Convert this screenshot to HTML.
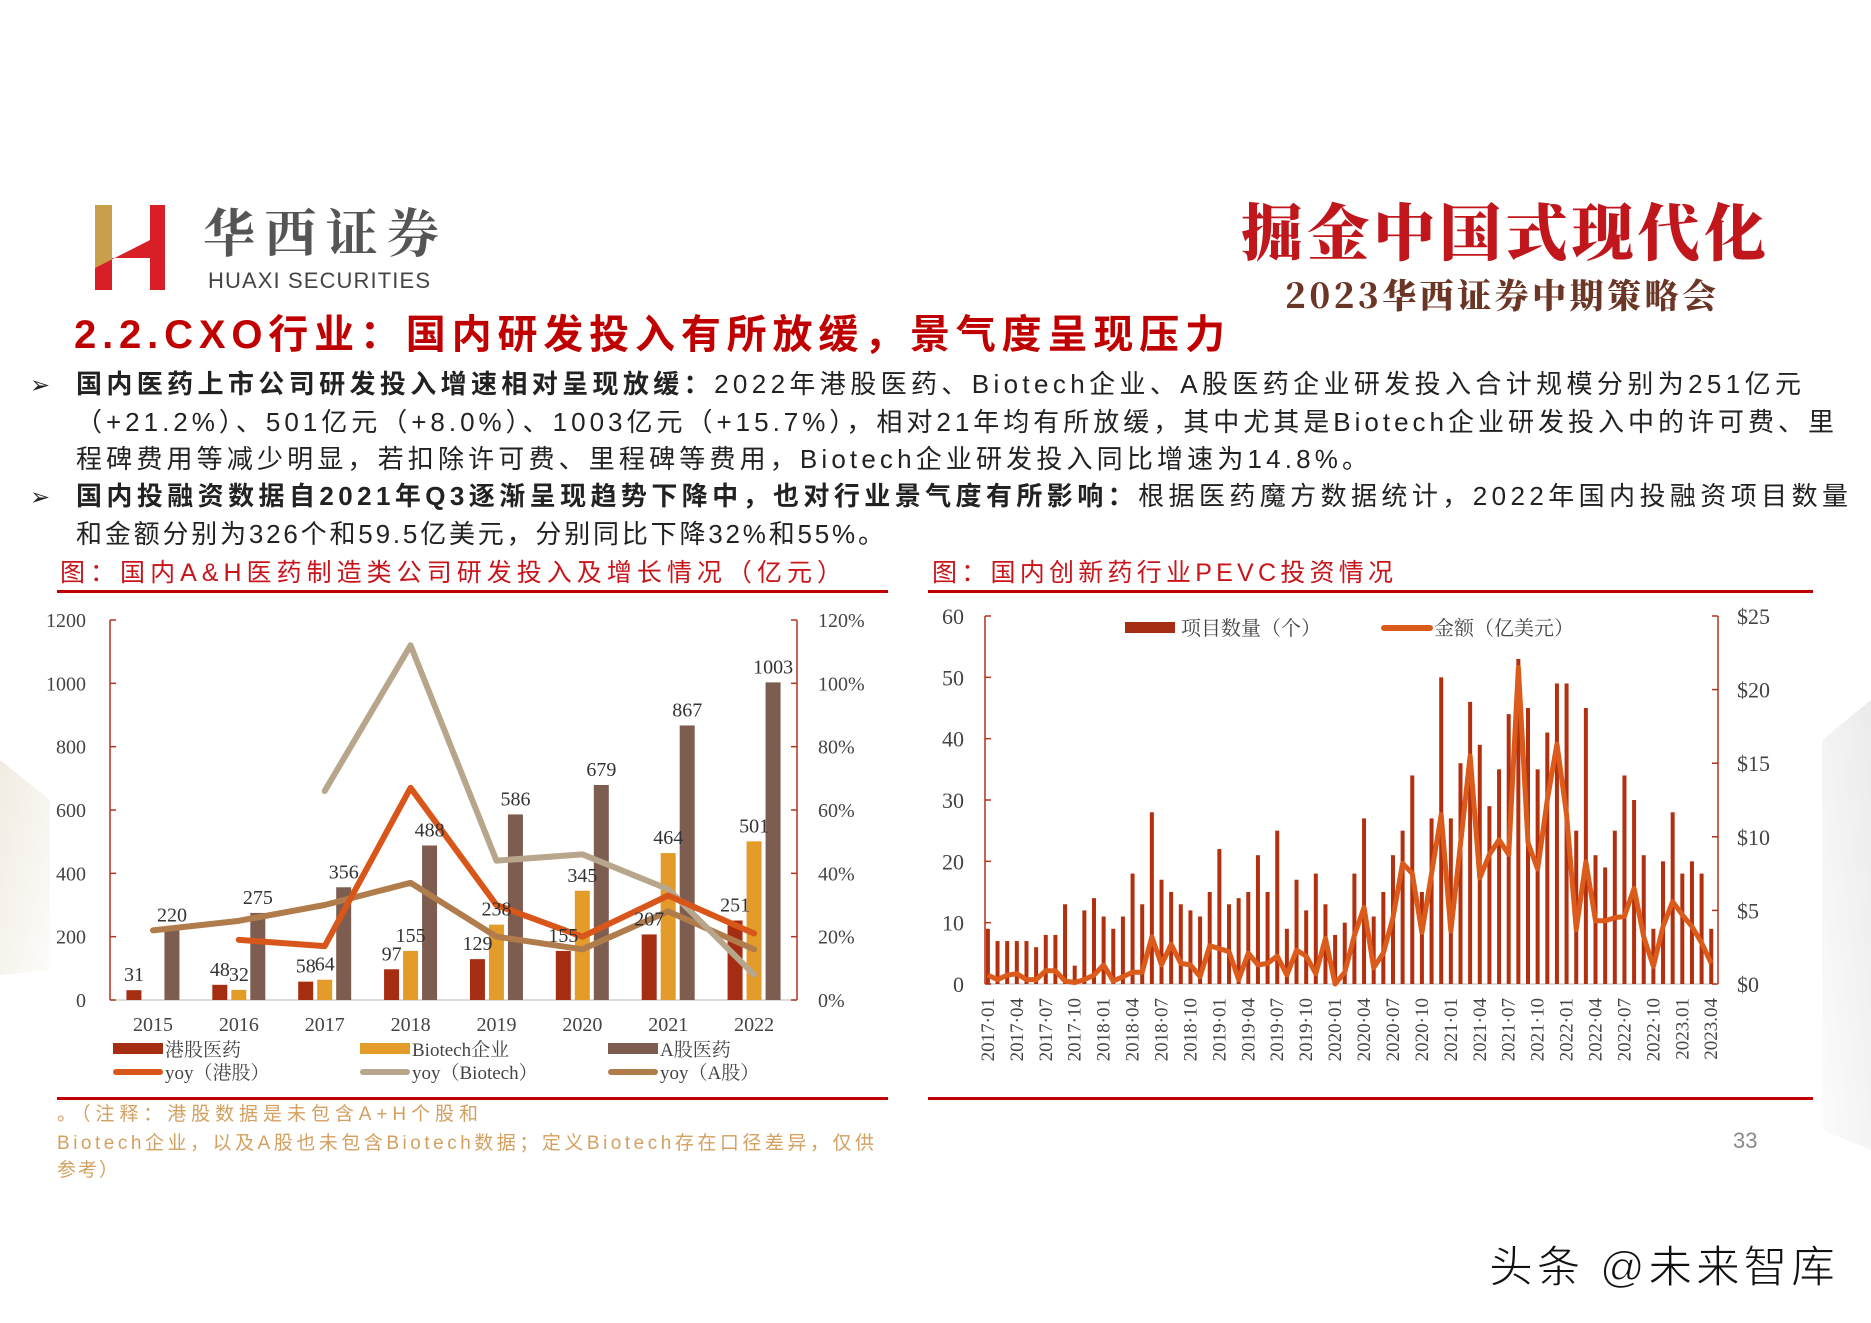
<!DOCTYPE html>
<html><head><meta charset="utf-8">
<style>
html,body{margin:0;padding:0;background:#fff;}
svg{display:block;}
.cjk{font-family:"Liberation Sans","Noto Sans CJK SC",sans-serif;}
.ser{font-family:"Liberation Serif","Noto Serif CJK SC",serif;}
</style></head>
<body>
<svg id="page" width="1871" height="1323" viewBox="0 0 1871 1323" xmlns="http://www.w3.org/2000/svg">
<defs>
<linearGradient id="lg" x1="0" y1="0" x2="1" y2="1"><stop offset="0" stop-color="#f1ece2"/><stop offset="1" stop-color="#fdfcfa"/></linearGradient>
<linearGradient id="rg" x1="1" y1="0" x2="0" y2="1"><stop offset="0" stop-color="#ebebeb"/><stop offset="1" stop-color="#fcfcfc"/></linearGradient>
</defs>
<polygon points="0,760 50,800 50,970 0,975" fill="url(#lg)"/>
<polygon points="1871,700 1822,740 1822,1130 1871,1150" fill="url(#rg)"/>

<!-- logo -->
<g>
<polygon points="95,205 112,205 112,262 95,268" fill="#c9a04a"/>
<polygon points="95,268 150,240 150,205 165,205 165,290 150,290 150,258 112,258 112,290 95,290" fill="#d81e27"/>
<text x="203" y="252" font-size="52" font-weight="bold" fill="#555" font-family="'Noto Serif CJK SC',serif" textLength="236">华西证券</text>
<text x="208" y="288" font-size="22" fill="#444" font-family="'Liberation Sans',sans-serif" textLength="222">HUAXI SECURITIES</text>
</g>
<text x="1241" y="255" font-size="62" font-weight="900" fill="#c0161c" font-family="'Noto Serif CJK SC',serif" textLength="525">掘金中国式现代化</text>
<text x="1285" y="308" font-size="34" font-weight="900" fill="#6b3626" font-family="'Noto Serif CJK SC',serif" textLength="431">2023华西证券中期策略会</text>

<text class="cjk" x="74" y="348" font-size="40" font-weight="bold" fill="#c00000" textLength="1151">2.2.CXO行业：国内研发投入有所放缓，景气度呈现压力</text>

<g class="cjk" font-size="26" fill="#222">
<text x="30" y="393" font-size="24">➢</text>
<text x="76" y="393" textLength="1725"><tspan font-weight="bold">国内医药上市公司研发投入增速相对呈现放缓：</tspan>2022年港股医药、Biotech企业、A股医药企业研发投入合计规模分别为251亿元</text>
<text x="76" y="431" textLength="1758">（+21.2%）、501亿元（+8.0%）、1003亿元（+15.7%），相对21年均有所放缓，其中尤其是Biotech企业研发投入中的许可费、里</text>
<text x="76" y="468" textLength="1292">程碑费用等减少明显，若扣除许可费、里程碑等费用，Biotech企业研发投入同比增速为14.8%。</text>
<text x="30" y="505" font-size="24">➢</text>
<text x="76" y="505" textLength="1772"><tspan font-weight="bold">国内投融资数据自2021年Q3逐渐呈现趋势下降中，也对行业景气度有所影响：</tspan>根据医药魔方数据统计，2022年国内投融资项目数量</text>
<text x="76" y="543" textLength="808">和金额分别为326个和59.5亿美元，分别同比下降32%和55%。</text>
</g>

<text class="cjk" x="60" y="581" font-size="25" fill="#c8151b" textLength="782">图：国内A&amp;H医药制造类公司研发投入及增长情况（亿元）</text>
<text class="cjk" x="932" y="581" font-size="25" fill="#c8151b" textLength="461">图：国内创新药行业PEVC投资情况</text>
<rect x="57" y="590" width="831" height="3" fill="#c00000"/>
<rect x="928" y="590" width="885" height="3" fill="#c00000"/>
<rect x="57" y="1097" width="831" height="3" fill="#c00000"/>
<rect x="928" y="1097" width="885" height="3" fill="#c00000"/>

<g class="cjk" font-size="19" fill="#d4a060">
<text x="57" y="1120" textLength="421">。（注释：港股数据是未包含A+H个股和</text>
<text x="57" y="1149" textLength="817">Biotech企业，以及A股也未包含Biotech数据；定义Biotech存在口径差异，仅供</text>
<text x="57" y="1176" textLength="61">参考）</text>
</g>
<text class="cjk" x="1733" y="1148" font-size="22" fill="#8a8a8a">33</text>
<text class="cjk" x="1489" y="1282" font-size="44" fill="#111" stroke="#fff" stroke-width="1" textLength="346">头条 @未来智库</text>

<g id="chart1" class="ser"></g>
<g id="chart2" class="ser"></g>
</svg>

<script>
// ---------- chart 1 data ----------
const years = ["2015","2016","2017","2018","2019","2020","2021","2022"];
const hkRD = [31,48,58,97,129,155,207,251];
const biotechRD = [null,32,64,155,238,345,464,501];
const aRD = [220,275,356,488,586,679,867,1003];
const hkYoy = [null,19,17,67,30,20,33,21];
const biotechYoy = [null,null,66,112,44,46,35,8];
const aYoy = [22,25,30,37,20,16,28,16];
const leftTicks = [0,200,400,600,800,1000,1200];
const rightTicks = ["0%","20%","40%","60%","80%","100%","120%"];

// ---------- chart 2 data ----------
const monthLabels = ["2017·01","2017·04","2017·07","2017·10","2018·01","2018·04","2018·07","2018·10","2019·01","2019·04","2019·07","2019·10","2020·01","2020·04","2020·07","2020·10","2021·01","2021·04","2021·07","2021·10","2022·01","2022·04","2022·07","2022·10","2023.01","2023.04"];
const dealCount = [9,7,7,7,7,6,8,8,13,3,12,14,11,9,11,18,13,28,17,15,13,12,11,15,22,13,14,15,21,15,25,9,17,12,18,13,8,10,18,27,11,15,21,25,34,15,27,50,27,36,46,39,29,35,44,53,45,35,41,49,49,25,45,21,19,25,34,30,21,9,20,28,18,20,18,9];
const dealAmount = [0.6,0.3,0.6,0.7,0.3,0.3,0.9,0.9,0.2,0.1,0.3,0.6,1.3,0.2,0.5,0.8,0.8,3.2,1.3,2.7,1.4,1.3,0.5,2.6,2.4,2.2,0.3,2.1,1.3,1.4,1.9,0.6,2.3,1.9,0.7,3.1,0,0.8,3.3,5.2,1.1,2.1,4.5,8.2,7.5,3.5,7.5,11.5,3.6,9.5,15.5,7.2,8.8,9.8,8.8,21.5,9.6,7.8,12.5,16.3,11.5,3.7,8.3,4.3,4.3,4.5,4.6,6.5,3.2,1.2,3.9,5.6,4.7,3.9,2.8,1.4];
const countTicks = [0,10,20,30,40,50,60];
const amountTicks = ["$0","$5","$10","$15","$20","$25"];

const NS = "http://www.w3.org/2000/svg";
function mk(tag, attrs, parent){
  const e = document.createElementNS(NS, tag);
  for (const k in attrs) e.setAttribute(k, attrs[k]);
  parent.appendChild(e);
  return e;
}

// ===== chart 1 =====
(function(){
  const g = document.getElementById('chart1');
  const X0=110, X1=797, Y0=1000, Y1=620;
  const band=(X1-X0)/years.length;
  const cx=i=>X0+band*(i+0.5);
  const yL=v=>Y0-(v/1200)*(Y0-Y1);
  const yR=v=>Y0-(v/120)*(Y0-Y1);
  let e;
  e=mk('line',{x1:X0,y1:Y1,x2:X0,y2:Y0,stroke:'#b3321c','stroke-width':1.5},g);
   
  e=mk('line',{x1:X1,y1:Y1,x2:X1,y2:Y0,stroke:'#b3321c','stroke-width':1.5},g);
   
  e=mk('line',{x1:X0,y1:Y0,x2:X1,y2:Y0,stroke:'#d0d0d0','stroke-width':1.5},g);
   
  leftTicks.forEach((t)=>{
    const y=yL(t);
    mk('line',{x1:X0,y1:y,x2:X0+6,y2:y,stroke:'#b3321c','stroke-width':1.5},g);
    const tx=mk('text',{x:86,y:y+7,'font-size':20,fill:'#444','text-anchor':'end'},g);
    tx.textContent=t;
     
  });
  rightTicks.forEach((t,i)=>{
    const y=yR(i*20);
    mk('line',{x1:X1-6,y1:y,x2:X1,y2:y,stroke:'#b3321c','stroke-width':1.5},g);
    const tx=mk('text',{x:818,y:y+7,'font-size':20,fill:'#444'},g);
    tx.textContent=t;
     
  });
  const series=[[hkRD,-19,'#a52d12','hk-bar'],[biotechRD,0,'#e39b2a','biotech-bar'],[aRD,19,'#7d5d50','a-share-bar']];
  years.forEach((yr,i)=>{
    const t=mk('text',{x:cx(i),y:1031,'font-size':20,fill:'#444','text-anchor':'middle'},g);
    t.textContent=yr;
     
    series.forEach(s=>{
      const v=s[0][i]; if(v==null) return;
      const x=cx(i)+s[1]-7.5;
      const r=mk('rect',{x:x,y:yL(v),width:15,height:Y0-yL(v),fill:s[2]},g);
       
    });
  });
  const lines=[[aYoy,'#b07c4c','yoy-a-share-line'],[biotechYoy,'#b8a68c','yoy-biotech-line'],[hkYoy,'#d9561a','yoy-hk-line']];
  lines.forEach(l=>{
    let d='';
    l[0].forEach((v,i)=>{ if(v==null) return; d+=(d?'L':'M')+cx(i)+','+yR(v); });
    const p=mk('path',{d:d,fill:'none',stroke:l[1],'stroke-width':6,'stroke-linejoin':'round','stroke-linecap':'round'},g);
     
  });
  years.forEach((yr,i)=>{
    series.forEach(s=>{
      const v=s[0][i]; if(v==null) return;
      const t=mk('text',{x:cx(i)+s[1],y:yL(v)-9,'font-size':20,fill:'#333','text-anchor':'middle'},g);
      t.textContent=v;
       
    });
  });
  const leg=[[113,1049,'rect','#a52d12','港股医药'],[360,1049,'rect','#e39b2a','Biotech企业'],[608,1049,'rect','#7d5d50','A股医药'],
             [113,1072,'line','#d9561a','yoy（港股）'],[360,1072,'line','#b8a68c','yoy（Biotech）'],[608,1072,'line','#b07c4c','yoy（A股）']];
  leg.forEach(L=>{
    let s;
    if(L[2]==='rect') s=mk('rect',{x:L[0],y:L[1]-6,width:50,height:11,fill:L[3]},g);
    else s=mk('line',{x1:L[0]+3,y1:L[1],x2:L[0]+47,y2:L[1],stroke:L[3],'stroke-width':6,'stroke-linecap':'round'},g);
     
    const t=mk('text',{x:L[0]+52,y:L[1]+7,'font-size':19,fill:'#444'},g);
    t.textContent=L[4];
     
  });
})();

// ===== chart 2 =====
(function(){
  const g=document.getElementById('chart2');
  const X0=985, X1=1718, Y0=984, Y1=616;
  const n=dealCount.length, band=(X1-X0)/n;
  const cx=i=>X0+band*(i+0.3);
  const yL=v=>Y0-(v/60)*(Y0-Y1);
  const yR=v=>Y0-(v/25)*(Y0-Y1);
  let e;
  e=mk('line',{x1:X0,y1:Y1,x2:X0,y2:Y0,stroke:'#b3321c','stroke-width':1.5},g);
   
  e=mk('line',{x1:X1,y1:Y1,x2:X1,y2:Y0,stroke:'#b3321c','stroke-width':1.5},g);
   
  e=mk('line',{x1:X0,y1:Y0,x2:X1,y2:Y0,stroke:'#d0d0d0','stroke-width':1.5},g);
   
  countTicks.forEach(t=>{
    const y=yL(t);
    mk('line',{x1:X0,y1:y,x2:X0+6,y2:y,stroke:'#b3321c','stroke-width':1.5},g);
    const tx=mk('text',{x:964,y:y+8,'font-size':22,fill:'#444','text-anchor':'end'},g);
    tx.textContent=t;
     
  });
  amountTicks.forEach((t,i)=>{
    const y=yR(i*5);
    mk('line',{x1:X1-6,y1:y,x2:X1,y2:y,stroke:'#b3321c','stroke-width':1.5},g);
    const tx=mk('text',{x:1737,y:y+8,'font-size':22,fill:'#444'},g);
    tx.textContent=t;
     
  });
  dealCount.forEach((v,i)=>{
    const r=mk('rect',{x:cx(i)-2,y:yL(v),width:4,height:Y0-yL(v),fill:'#b3300f'},g);
     
  });
  let d='';
  dealAmount.forEach((v,i)=>{ d+=(i?'L':'M')+cx(i)+','+yR(v); });
  const p=mk('path',{d:d,fill:'none',stroke:'#dc5a1a','stroke-width':5,'stroke-linejoin':'round'},g);
   
  monthLabels.forEach((m,k)=>{
    const x=cx(k*3)+6, y=998;
    const t=mk('text',{x:x,y:y,'font-size':19,fill:'#444','text-anchor':'end',transform:'rotate(-90 '+x+' '+y+')'},g);
    t.textContent=m;
     
  });
  let s=mk('rect',{x:1125,y:622,width:50,height:11,fill:'#a52d12'},g);
   
  let t=mk('text',{x:1181,y:635,'font-size':20,fill:'#444'},g);
  t.textContent='项目数量（个）';
   
  s=mk('line',{x1:1384,y1:628,x2:1430,y2:628,stroke:'#dc5a1a','stroke-width':6,'stroke-linecap':'round'},g);
   
  t=mk('text',{x:1434,y:635,'font-size':20,fill:'#444'},g);
  t.textContent='金额（亿美元）';
   
})();
</script>
</body></html>
